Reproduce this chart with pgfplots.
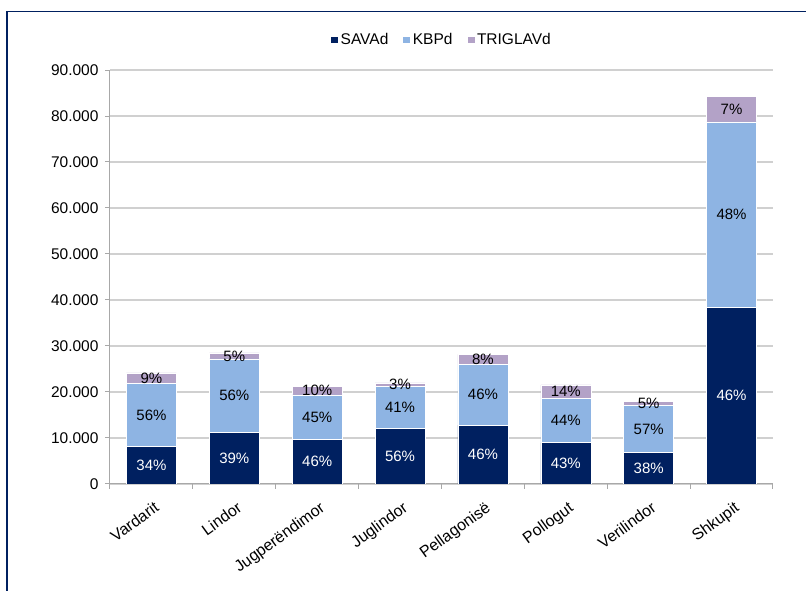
\documentclass[border=0pt]{standalone}
\usepackage{pgfplots}
\pgfplotsset{compat=1.18}
\usepackage{pgfplotstable}
\usepackage{fontspec}
\setmainfont{Liberation Sans}
\definecolor{sava}{HTML}{002060}
\definecolor{kbp}{HTML}{8EB4E3}
\definecolor{trig}{HTML}{B3A2C7}
\definecolor{gridc}{HTML}{D0D0D0}
\definecolor{axc}{HTML}{A8A8A8}
\newcommand\f{\fontsize{15}{17}\selectfont}
\newcommand\ft{\fontsize{15.5}{17}\selectfont}
\newcommand\fx{\fontsize{16}{18}\selectfont}
\pgfplotstableread{
x sava kbp trig ps pk pt
0 8.2 13.65 2.33 34 56 9
1 11.2 16.0 1.3 39 56 5
2 9.7 9.7 1.9 46 45 10
3 12.05 9.2 0.75 56 41 3
4 12.8 13.2 2.2 46 46 8
5 9.0 9.65 2.9 43 44 14
6 6.8 10.25 0.9 38 57 5
7 38.4 40.3 5.5 46 48 7
}\data
\begin{document}
\begin{tikzpicture}[x=1pt,y=1pt]
\useasboundingbox (0,0) rectangle (806,591);
\draw[sava, line width=1.6pt] (7,0) -- (7,579.5) -- (806,579.5);
\begin{axis}[
  at={(110pt,107pt)}, anchor=south west,
  scale only axis, width=663pt, height=414pt,
  ybar stacked, bar width=50pt,
  xmin=-0.5, xmax=7.5, ymin=0, ymax=90,
  axis lines*=left,
  axis line style={axc, line width=1pt},
  xtick={0,...,7},
  xticklabels={Vardarit,Lindor,Jugperëndimor,Juglindor,Pellagonisë,Pollogut,Verilindor,Shkupit},
  xticklabel style={rotate=36, anchor=north east, font=\fx, yshift=-7pt, xshift=-2pt},
  xtick style={draw=none},
  extra x ticks={-0.5,0.5,...,7.5},
  extra x tick labels={},
  extra x tick style={xtick style={draw=axc, line width=1pt}, major tick length=5pt},
  ytick={0,10,...,90},
  yticklabels={0,10.000,20.000,30.000,40.000,50.000,60.000,70.000,80.000,90.000},
  yticklabel style={font=\ft, xshift=-3pt},
  ytick style={draw=axc, line width=1pt},
  major tick length=5pt,
  tick align=outside,
  ymajorgrids, grid style={gridc, line width=1.2pt},
  /pgf/number format/assume math mode=true,
  point meta=explicit symbolic,
  nodes near coords={\pgfplotspointmeta\%},
  legend columns=3,
  legend style={at={(0.5,1)}, anchor=center, yshift=30pt, draw=none, font=\ft,
    /tikz/every even column/.append style={column sep=12pt},
    nodes={inner xsep=2pt}},
  legend image code/.code={\fill[#1] (0pt,-3.5pt) rectangle (8pt,4pt);},
]
\addplot[fill=sava, draw=white, line width=0.5pt,
  every node near coord/.append style={anchor=center, text=white, font=\f}]
  table[x=x, y=sava, meta=ps] {\data};
\addplot[fill=kbp, draw=white, line width=0.5pt,
  every node near coord/.append style={anchor=center, text=black, font=\f}]
  table[x=x, y=kbp, meta=pk] {\data};
\addplot[fill=trig, draw=white, line width=0.5pt,
  every node near coord/.append style={anchor=center, text=black, font=\f}]
  table[x=x, y=trig, meta=pt] {\data};
\legend{SAVAd,KBPd,TRIGLAVd}
\end{axis}
\end{tikzpicture}
\end{document}
